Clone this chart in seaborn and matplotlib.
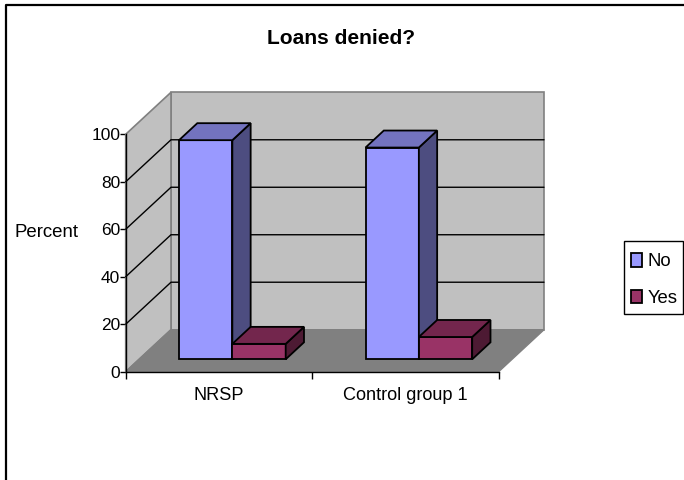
import matplotlib
matplotlib.use("Agg")
import matplotlib.pyplot as plt
from matplotlib.lines import Line2D
from matplotlib.patches import Polygon, Rectangle
import pandas as pd
import seaborn as sns

# ---- data ----
categories = ["NRSP", "Control group 1"]
no_values = [92.3, 89.2]
yes_values = [6.5, 9.4]
series_names = ["No", "Yes"]
y_ticks = [0, 20, 40, 60, 80, 100]
title_text = "Loans denied?"
y_label_text = "Percent"

# ---- styling ----
W, H = 684, 480
front_colors = {"No": "#9999FF", "Yes": "#993366"}
side_colors = {"No": "#4D4D80", "Yes": "#4D1A33"}
top_colors = {"No": "#7373BF", "Yes": "#73264D"}
WALL, FLOOR, WALL_EDGE = "#C0C0C0", "#808080", "#808080"

sns.set_theme(style="white")
plt.rcParams["font.family"] = ["Liberation Sans", "DejaVu Sans"]

fig = plt.figure(figsize=(W / 100, H / 100), dpi=100, facecolor="white")


def axes_px(x0, y0, x1, y1):
    return fig.add_axes([x0 / W, 1 - y1 / H, (x1 - x0) / W, (y1 - y0) / H])


# front plane of the 3-D box, in pixels
L, R, T, B = 125.7, 498.7, 134.3, 371.7
DX_PX, DY_PX = 45.3, 42.0           # full box depth
BAR_DX_PX, BAR_DY_PX = 18.3, 17.0   # bar depth
START_X_PX, START_Y_PX = 13.4, 12.4 # gap between front plane and bars

ax = axes_px(L, T, R, B)
ax.set_xlim(-0.5, 1.5)
ax.set_ylim(0, 100)
ax.patch.set_alpha(0)
sx = 2 / (R - L)
sy = 100 / (B - T)
dx, dy = DX_PX * sx, DY_PX * sy
x0, x1 = -0.5, 1.5

# walls and floor
ax.add_patch(Polygon([(x0 + dx, dy), (x1 + dx, dy), (x1 + dx, 100 + dy), (x0 + dx, 100 + dy)],
                     fc=WALL, ec=WALL_EDGE, lw=1.2, clip_on=False, zorder=1))
ax.add_patch(Polygon([(x0, 0), (x0 + dx, dy), (x0 + dx, 100 + dy), (x0, 100)],
                     fc=WALL, ec=WALL_EDGE, lw=1.2, clip_on=False, zorder=1))
ax.add_patch(Polygon([(x0, 0), (x1, 0), (x1 + dx, dy), (x0 + dx, dy)],
                     fc=FLOOR, ec=WALL_EDGE, lw=1.0, clip_on=False, zorder=1))
for v in y_ticks[1:-1]:
    ax.add_line(Line2D([x0, x0 + dx, x1 + dx], [v, v + dy, v + dy], color="black",
                       lw=1.0, clip_on=False, zorder=2))

# axes furniture
sns.despine(ax=ax, top=True, right=True)
for s in ("left", "bottom"):
    ax.spines[s].set_color("black")
    ax.spines[s].set_linewidth(1.0)
    ax.spines[s].set_zorder(3)
ax.set_yticks(y_ticks)
ax.set_xticks([-0.5, 0.5, 1.5])
ax.set_xticklabels([])
ax.set_xticks([0, 1], minor=True)
ax.set_xticklabels(categories, minor=True, fontsize=13.1)
ax.tick_params(axis="x", which="major", length=5, width=1, color="black", bottom=True)
ax.tick_params(axis="x", which="minor", length=0, pad=11, labelcolor="black")
ax.tick_params(axis="y", length=4, width=1, color="black", left=True, pad=0,
               labelsize=12.5, labelcolor="black")
fig.text(46.5 / W, 1 - 232 / H, y_label_text, ha="center", va="center",
         fontsize=13.4, color="black")
fig.text(341 / W, 1 - 39 / H, title_text, ha="center", va="center",
         fontsize=15.1, fontweight="bold", color="black")

# bars, on a transparent axes moved back into the box
bar_ax = axes_px(L + START_X_PX, T - START_Y_PX, R + START_X_PX, B - START_Y_PX)
bar_ax.patch.set_alpha(0)
df = pd.DataFrame({
    "category": categories * 2,
    "series": ["No"] * len(categories) + ["Yes"] * len(categories),
    "value": no_values + yes_values,
})
sns.barplot(data=df, x="category", y="value", hue="series", order=categories,
            hue_order=series_names, palette=front_colors, width=0.572, gap=0,
            edgecolor="black", linewidth=1.3, errorbar=None, saturation=1,
            ax=bar_ax)
bar_ax.set_xlim(-0.5, 1.5)
bar_ax.set_ylim(0, 100)
bar_ax.axis("off")

bdx, bdy = BAR_DX_PX * sx, BAR_DY_PX * sy
for z, (name, container) in enumerate(zip(series_names, bar_ax.containers)):
    for p in container.patches:
        xa, xb = p.get_x(), p.get_x() + p.get_width()
        h = p.get_height()
        p.set_zorder(3 + z)
        p.set_clip_on(False)
        bar_ax.add_patch(Polygon([(xb, 0), (xb + bdx, bdy), (xb + bdx, h + bdy), (xb, h)],
                                 fc=side_colors[name], ec="black", lw=1.3,
                                 clip_on=False, zorder=3 + z))
        bar_ax.add_patch(Polygon([(xa, h), (xb, h), (xb + bdx, h + bdy), (xa + bdx, h + bdy)],
                                 fc=top_colors[name], ec="black", lw=1.3,
                                 clip_on=False, zorder=3 + z))

# legend: box drawn separately so its padding can differ per side
fig.add_artist(Rectangle((624.3 / W, 1 - 314.3 / H), 59.2 / W, 73 / H, fc="white",
                         ec="black", lw=1.0, transform=fig.transFigure, zorder=5))
handles, labels = bar_ax.get_legend_handles_labels()
bar_ax.get_legend().remove()
leg = fig.legend(handles, labels, loc="upper left",
                 bbox_to_anchor=(624.3 / W, 1 - 246.8 / H), borderaxespad=0,
                 fontsize=13.3, frameon=False,
                 handlelength=0.58, handleheight=0.72,
                 handletextpad=0.3, labelspacing=1.05, borderpad=0.36)
leg.set_zorder(6)
for t in leg.get_texts():
    t.set_color("black")

# chart-area border: only top and left are visible
fig.add_artist(Line2D([5.5 / W, 5.5 / W, 1], [0, 1 - 5 / H, 1 - 5 / H], color="black",
                      lw=1.6, transform=fig.transFigure))

fig.savefig("out.png", dpi=100, facecolor="white")
